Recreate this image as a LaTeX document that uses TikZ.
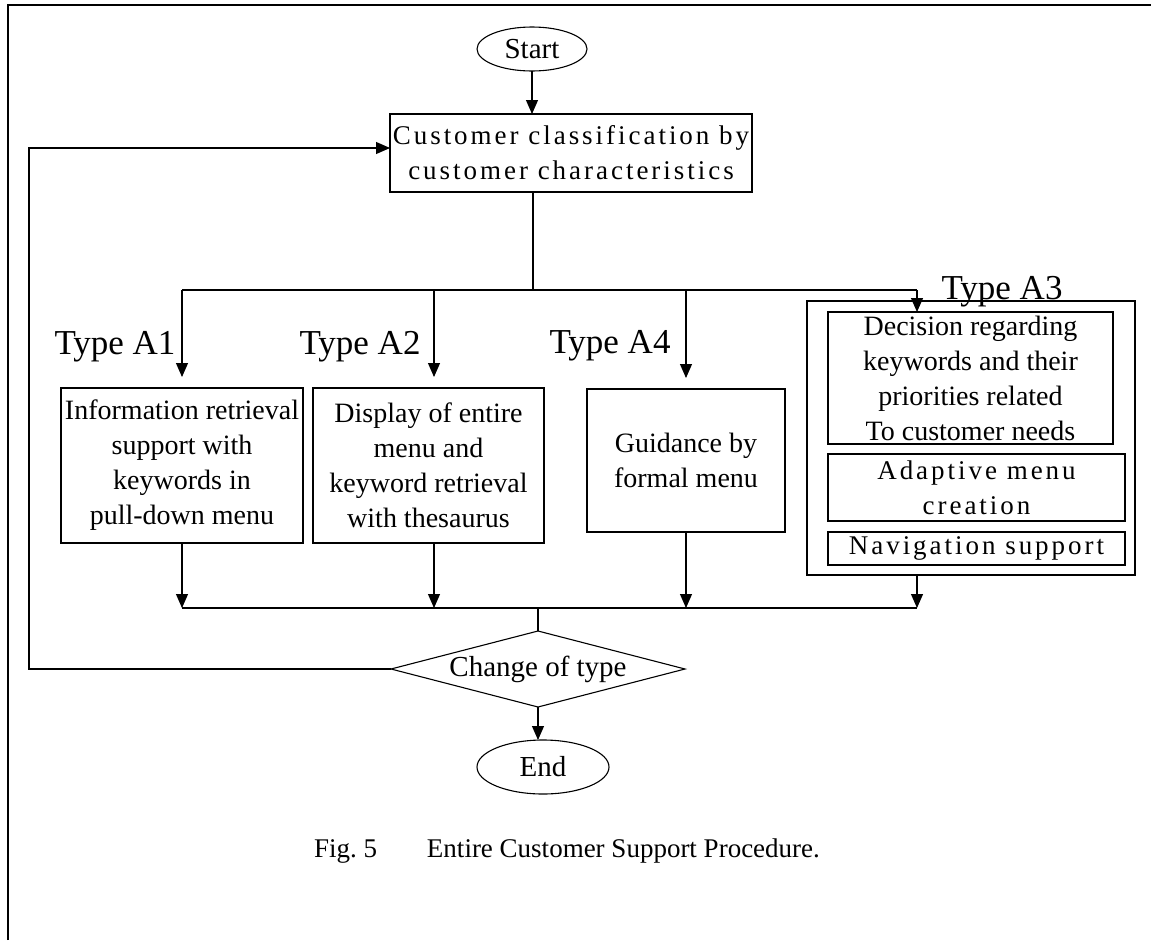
\documentclass[tikz,border=0pt]{standalone}
\usepackage{fontspec}
\setmainfont{Liberation Serif}
\newfontfamily\spacedfont[LetterSpace=11]{Liberation Serif}
\usetikzlibrary{shapes.geometric,arrows.meta}
\begin{document}
\begin{tikzpicture}[x=1pt,y=-1pt,
  every node/.style={inner sep=0pt, outer sep=0pt},
  box/.style={draw, line width=1.1pt, rectangle, align=center, font=\fontsize{28pt}{35pt}\selectfont},
  spacedtext/.style={font=\spacedfont\fontsize{27pt}{35pt}\selectfont},
  conn/.style={line width=1.1pt},
  arr/.style={line width=1.1pt, -{Triangle[length=14pt,width=12pt]}},
  typelabel/.style={anchor=base, font=\fontsize{35pt}{40pt}\selectfont},
  terminal/.style={draw, ellipse, line width=1.1pt, font=\fontsize{29pt}{35pt}\selectfont}]
\useasboundingbox (0,0) rectangle (1151,940);
% frame
\draw[line width=2.2pt] (8,940) -- (8,5) -- (1151,5);
% nodes
\node[terminal, minimum width=110pt, minimum height=44pt] (start) at (532,49) {Start};
\node[box, spacedtext, minimum width=362pt, minimum height=78pt] (classify) at (571,153) {Customer classification by\\customer characteristics};
\node[box, minimum width=242pt, minimum height=155pt] (a1) at (182,465.5) {Information retrieval\\support with\\keywords in\\pull-down menu};
\node[box, minimum width=231pt, minimum height=155pt] (a2) at (428.5,465.5) {Display of entire\\menu and\\keyword retrieval\\with thesaurus};
\node[box, minimum width=198pt, minimum height=143pt] (a4) at (686,460.5) {Guidance by\\formal menu};
\node[draw, line width=1.1pt, minimum width=328pt, minimum height=274pt] (a3) at (971,438) {};
\node[box, minimum width=285pt, minimum height=132pt] (a3a) at (970.5,378) {Decision regarding\\keywords and their\\priorities related\\To customer needs};
\node[box, spacedtext, minimum width=297pt, minimum height=67pt] (a3b) at (976.5,487.5) {Adaptive menu\\creation};
\node[box, spacedtext, minimum width=297pt, minimum height=33pt] (a3c) at (976.5,548.5) {Navigation support};
\node[typelabel] (t1) at (115,354) {Type A1};
\node[typelabel] (t2) at (360,354) {Type A2};
\node[typelabel] (t4) at (610,353) {Type A4};
\node[typelabel] (t3) at (1002,299) {Type A3};
\node[draw, diamond, aspect=3.87, line width=1.1pt, minimum width=294pt, minimum height=76pt, font=\fontsize{29pt}{35pt}\selectfont] (change) at (538,669) {Change of type};
\node[terminal, minimum width=132pt, minimum height=54pt] (end) at (543,767) {End};
\node[anchor=base west, font=\fontsize{27pt}{32pt}\selectfont] (cap) at (314,857) {Fig.\ 5\hspace{50pt}Entire Customer Support Procedure.};
% coordinates
\coordinate (split) at (533,290);
\coordinate (s1) at (182,290);
\coordinate (s2) at (434,290);
\coordinate (s4) at (686,290);
\coordinate (s3) at (917,290);
\coordinate (m1) at (182,608);
\coordinate (m2) at (434,608);
\coordinate (m4) at (686,608);
\coordinate (m3) at (917,608);
\coordinate (mc) at (538,608);
\coordinate (fb) at (29,669);
% connectors
\draw[arr] (start.south) -- (start.south |- classify.north);
\draw[conn] (classify.south -| split) -- (split);
\draw[conn] (s1) -- (s3);
\draw[arr, shorten >=11pt] (s1) -- (s1 |- a1.north);
\draw[arr, shorten >=11pt] (s2) -- (s2 |- a2.north);
\draw[arr, shorten >=11pt] (s4) -- (s4 |- a4.north);
\draw[arr] (s3) -- (s3 |- a3a.north);
\draw[arr] (a1.south) -- (m1);
\draw[arr] (a2.south -| m2) -- (m2);
\draw[arr] (a4.south) -- (m4);
\draw[arr] (a3.south -| m3) -- (m3);
\draw[conn] (m1) -- (m3);
\draw[conn] (mc) -- (mc |- change.north);
\draw[arr] (change.south) -- (change.south |- end.north);
\draw[arr] (change.west) -- (fb) |- ([yshift=5pt]classify.west);
\end{tikzpicture}
\end{document}
